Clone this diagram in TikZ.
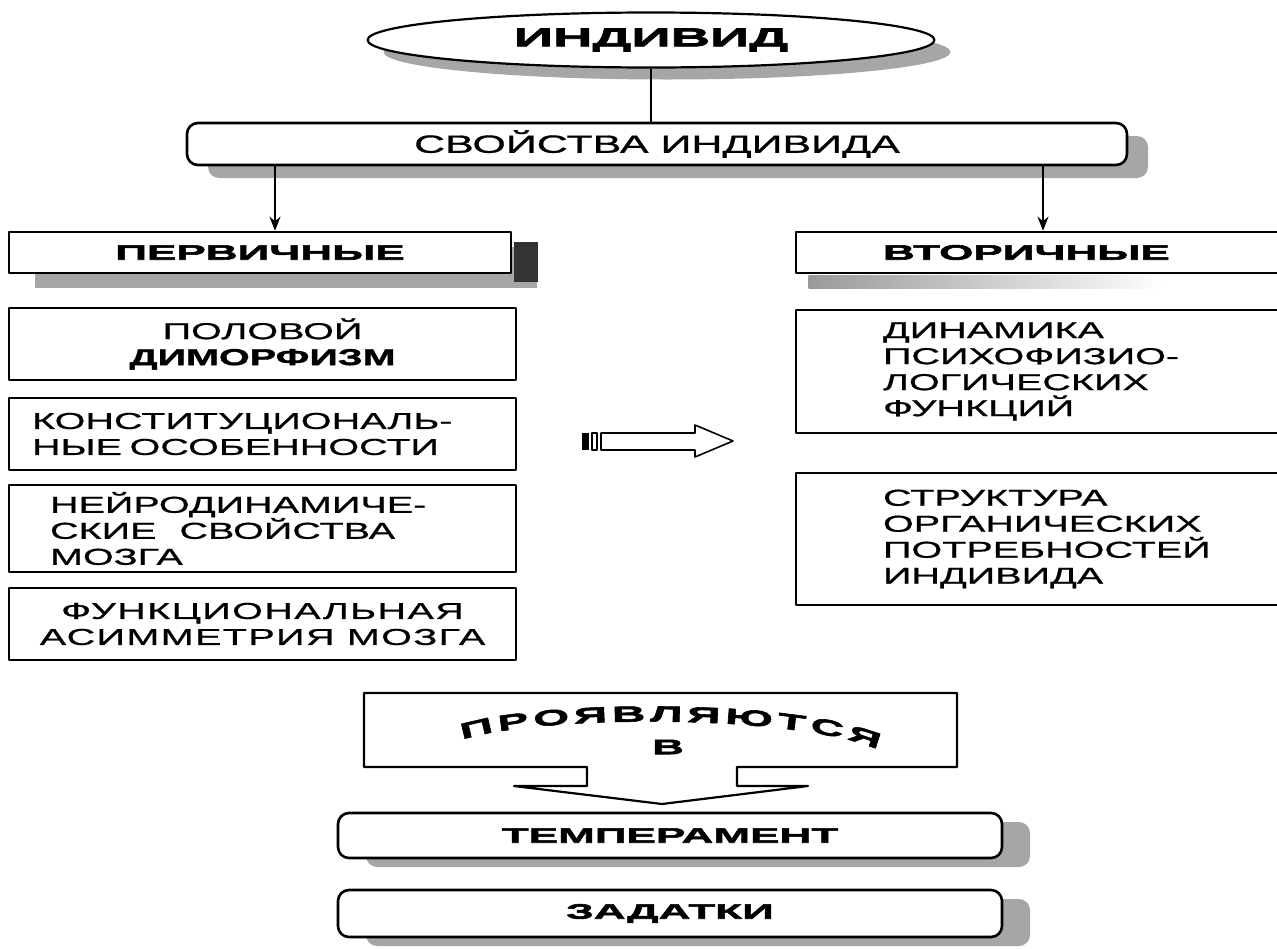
\documentclass[tikz,border=0pt]{standalone}
\usepackage{fontspec}
\setmainfont{Liberation Sans}
\newfontfamily\plainf{Liberation Sans}[FakeStretch=1.72,FakeBold=0.8,BoldFeatures={FakeBold=1.6}]
\newfontfamily\heavyf{Liberation Sans}[FakeStretch=2.1,BoldFeatures={FakeBold=2.6}]
\newcommand\heavytxt{\heavyf\bfseries}
\usetikzlibrary{shapes.geometric,shadows,arrows.meta,decorations.text,positioning}
\begin{document}
\begin{tikzpicture}[x=1pt, y=-1pt, line join=round, >={Stealth[length=14pt,width=11pt]},
	box/.style={draw, line width=2.6pt, fill=white, inner sep=0pt},
	rbox/.style={box, rounded corners=11pt},
	sh/.style 2 args={drop shadow={shadow xshift=#1, shadow yshift=#2, fill=black!50, opacity=.7}},
	txt/.style={font={\plainf\fontsize{23}{26}\selectfont}},
	heavy/.style={font={\heavytxt\fontsize{21}{24}\selectfont}},
	leftbox/.style={box, line width=2.8pt, minimum width=507pt, txt},
	rightbox/.style={box, minimum width=516pt, text width=342pt, inner xsep=87pt, align=left, txt}]
	\useasboundingbox (0,0) rectangle (1277,948);
	\clip (0,0) rectangle (1277,948);
	
	\node[box, ellipse, line width=2.2pt, minimum width=567pt, minimum height=55pt, sh={16pt}{-12pt},
		font={\heavytxt\fontsize{26}{26}\selectfont}] (ind) at (651,40) {ИНДИВИД};
	\node[rbox, minimum width=940pt, minimum height=42pt, sh={21pt}{-13pt},
		font={\plainf\fontsize{25}{25}\selectfont}] (prop) at (657,144) {СВОЙСТВА ИНДИВИДА};
	\draw[line width=2.2pt] (ind.south) -- (ind.south |- prop.north);
	
	\node[box, minimum width=502pt, minimum height=41pt, sh={26pt}{-15pt}, heavy] (perv) at (260,252.5) {ПЕРВИЧНЫЕ};
	\fill[black!80] ([xshift=1.5pt,yshift=-11pt]perv.north east) rectangle ([xshift=26pt,yshift=-8pt]perv.south east);
	\node[box, minimum width=516pt, minimum height=41pt, text width=342pt, inner xsep=87pt, align=left, heavy] (vtor) at (1054,252.5) {ВТОРИЧНЫЕ};
	\shade[left color=black!40, right color=white] ([xshift=14pt,yshift=-1.5pt]vtor.south west) rectangle ([xshift=-150pt,yshift=-14pt]vtor.south east);
	
	\coordinate (pl) at ([xshift=15pt]perv.north);
	\coordinate (vl) at ([xshift=-11pt]vtor.north);
	\draw[->, line width=2.2pt] (pl |- prop.south) -- (pl);
	\draw[->, line width=2.2pt] (vl |- prop.south) -- (vl);
	
	\node[leftbox, minimum height=72pt, align=center] (pol) at (262.5,344) {ПОЛОВОЙ\\{\bfseries ДИМОРФИЗМ}};
	\node[leftbox, minimum height=72pt, text width=461pt, inner xsep=23pt, align=left] (con) at (262.5,434) {КОНСТИТУЦИОНАЛЬ-\\НЫЕ ОСОБЕННОСТИ};
	\node[leftbox, minimum height=87pt, text width=425pt, inner xsep=41pt, align=left] (neu) at (262.5,528.5) {НЕЙРОДИНАМИЧЕ-\\СКИЕ\quad СВОЙСТВА\\МОЗГА};
	\node[leftbox, minimum height=72pt, align=center, font={\plainf\fontsize{23}{26}\addfontfeatures{LetterSpace=6}\selectfont}] (fun) at (262.5,624) {ФУНКЦИОНАЛЬНАЯ\\АСИММЕТРИЯ МОЗГА};
	
	\node[rightbox, minimum height=123pt] (dyn) at (1054,371.5) {ДИНАМИКА\\ПСИХОФИЗИО-\\ЛОГИЧЕСКИХ\\ФУНКЦИЙ};
	\node[rightbox, minimum height=132pt] (str) at (1054,539) {СТРУКТУРА\\ОРГАНИЧЕСКИХ\\ПОТРЕБНОСТЕЙ\\ИНДИВИДА};
	
	\fill (582,433) rectangle (589,450);
	\draw[line width=1.6pt] (592,433) rectangle (597,450);
	\draw[line width=1.6pt] (601,433) -- (695,433) -- (695,425) -- (733,441) -- (695,457) -- (695,450) -- (601,450) -- cycle;
	
	\draw[line width=2.2pt, fill=white] (364,693) -- (957,693) -- (957,767) -- (737,767) -- (737,786) -- (808,786) -- (662,804)
		-- (514,786) -- (587,786) -- (587,767) -- (364,767) -- cycle;
	\path[decorate, decoration={text along path, text align=fit to path,
		text={|\heavytxt\fontsize{22}{22}\selectfont|ПРОЯВЛЯЮТСЯ}}]
		(462,740) .. controls (540,714) and (800,714) .. (878,750);
	\node[font={\heavytxt\fontsize{21}{21}\selectfont}] (inw) at (668,747) {В};
	
	\node[rbox, minimum width=664pt, minimum height=45pt, sh={28pt}{-9pt}, heavy] (temp) at (670,835.5) {ТЕМПЕРАМЕНТ};
	\node[rbox, minimum width=664pt, minimum height=47pt, sh={28pt}{-9pt}, heavy] (zad) at (670,913.5) {ЗАДАТКИ};
\end{tikzpicture}
\end{document}
